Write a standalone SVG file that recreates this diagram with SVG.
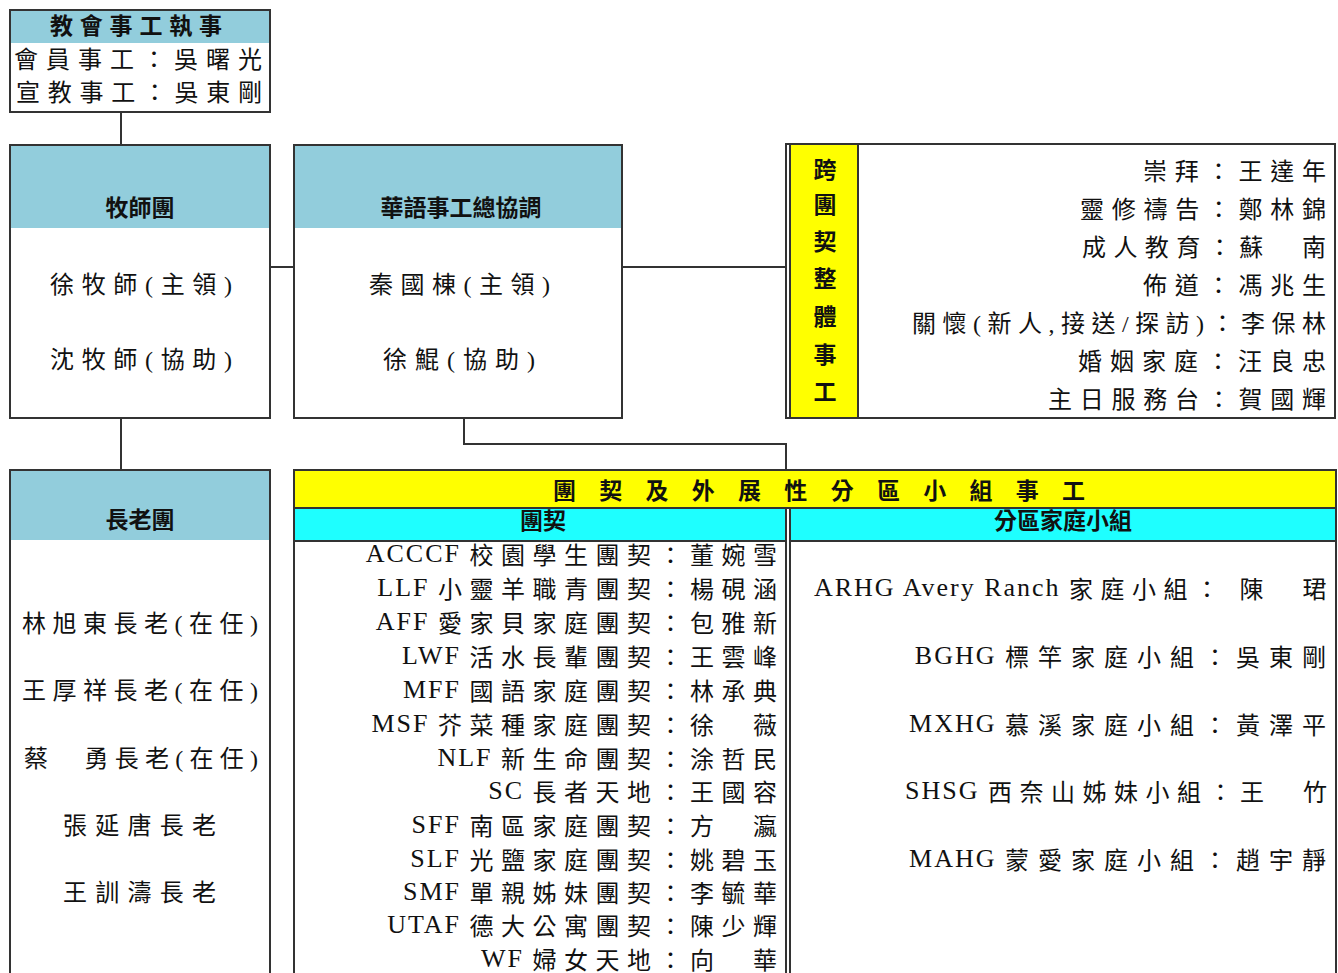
<svg xmlns="http://www.w3.org/2000/svg" width="1338" height="973" viewBox="0 0 1338 973">
<style>
.box{fill:#fff;stroke:#333;stroke-width:2}
.hdr{fill:#92CDDC}
.yel{fill:#FFFF00;stroke:#333;stroke-width:2}
.cyan{fill:#1EFFFF;stroke:#333;stroke-width:2}
.ln{fill:none;stroke:#333;stroke-width:2}
text{dominant-baseline:central;fill:#111}
.t{font-family:"Liberation Serif","Noto Sans CJK TC",serif;font-size:24px}
.h{font-family:"Liberation Sans","Noto Sans CJK TC",sans-serif;font-size:23px;font-weight:bold;text-anchor:middle}
.r{text-anchor:end}
.lat{font-family:"Liberation Serif",serif;font-size:26px;letter-spacing:2px}
.cf{font-family:"Noto Sans CJK TC",sans-serif;font-size:24px;letter-spacing:7.5px}
.cd{font-family:"Noto Sans CJK TC",sans-serif;font-size:24px;letter-spacing:9px}
</style>
<g id="connectors">
<path class="ln" d="M121 112V145"/>
<path class="ln" d="M270 267H294"/>
<path class="ln" d="M622 267H786"/>
<path class="ln" d="M121 418V470"/>
<path class="ln" d="M464 418V444H786V470"/>
</g>
<g id="deacons">
<rect class="box" x="10" y="10" width="260" height="102"/>
<rect class="hdr" x="11" y="11" width="258" height="32"/>
<text class="h" x="136" y="26" font-size="24" textLength="172">教會事工執事</text>
<text class="t" x="14" y="60" textLength="248">會員事工：吳曙光</text>
<text class="t" x="16" y="93" textLength="246">宣教事工：吳東剛</text>
</g>
<g id="pastors">
<rect class="box" x="10" y="145" width="260" height="273"/>
<rect class="hdr" x="11" y="146" width="258" height="82"/>
<text class="h" x="140" y="208">牧師團</text>
<text class="t" x="50" y="285" textLength="182">徐牧師(主領)</text>
<text class="t" x="50" y="360" textLength="182">沈牧師(協助)</text>
</g>
<g id="coordinator">
<rect class="box" x="294" y="145" width="328" height="273"/>
<rect class="hdr" x="295" y="146" width="326" height="82"/>
<text class="h" x="461" y="208">華語事工總協調</text>
<text class="t" x="369" y="285" textLength="181">秦國棟(主領)</text>
<text class="t" x="383" y="360" textLength="152">徐鯤(協助)</text>
</g>
<g id="cross-fellowship">
<rect class="box" x="786" y="144" width="549" height="274"/>
<rect class="yel" x="790" y="144" width="68" height="274"/>
<g class="h" font-size="24">
<text x="825" y="170">跨</text>
<text x="825" y="205">團</text>
<text x="825" y="242">契</text>
<text x="825" y="279">整</text>
<text x="825" y="317">體</text>
<text x="825" y="355">事</text>
<text x="825" y="392">工</text>
</g>
<g class="t r">
<text x="1326" y="172" textLength="183">崇拜：王達年</text>
<text x="1326" y="210" textLength="246">靈修禱告：鄭林錦</text>
<text x="1326" y="248" textLength="244">成人教育：蘇　南</text>
<text x="1326" y="286" textLength="183">佈道：馮兆生</text>
<text x="1326" y="324" textLength="414">關懷(新人,接送/探訪)：李保林</text>
<text x="1326" y="362" textLength="248">婚姻家庭：汪良忠</text>
<text x="1326" y="400" textLength="278">主日服務台：賀國輝</text>
</g>
</g>
<g id="elders">
<rect class="box" x="10" y="470" width="260" height="510"/>
<rect class="hdr" x="11" y="471" width="258" height="69"/>
<text class="h" x="140" y="520">長老團</text>
<text class="t" x="22" y="624" textLength="236">林旭東長老(在任)</text>
<text class="t" x="22" y="691" textLength="236">王厚祥長老(在任)</text>
<text class="t" x="24" y="759" textLength="234">蔡　勇長老(在任)</text>
<text class="t" x="63" y="826" textLength="153">張延唐長老</text>
<text class="t" x="63" y="893" textLength="153">王訓濤長老</text>
</g>
<g id="groups">
<rect class="box" x="294" y="470" width="1042" height="510"/>
<rect class="yel" x="294" y="470" width="1042" height="38"/>
<text class="h" x="819" y="491" font-size="26" textLength="532">團 契 及 外 展 性 分 區 小 組 事 工</text>
<rect class="cyan" x="294" y="508" width="492" height="33"/>
<rect class="cyan" x="790" y="508" width="546" height="33"/>
<text class="h" x="543" y="521">團契</text>
<text class="h" x="1063" y="521">分區家庭小組</text>
<path class="ln" d="M786 541V980M790 541V980"/>
</g>
<g id="fellowships" class="t r">
<text x="784.5" y="553"><tspan class="lat">ACCCF </tspan><tspan class="cf">校園學生團契：董婉雪</tspan></text>
<text x="784.5" y="587"><tspan class="lat">LLF </tspan><tspan class="cf">小靈羊職青團契：楊硯涵</tspan></text>
<text x="784.5" y="621"><tspan class="lat">AFF </tspan><tspan class="cf">愛家貝家庭團契：包雅新</tspan></text>
<text x="784.5" y="655"><tspan class="lat">LWF </tspan><tspan class="cf">活水長輩團契：王雲峰</tspan></text>
<text x="784.5" y="689"><tspan class="lat">MFF </tspan><tspan class="cf">國語家庭團契：林承典</tspan></text>
<text x="784.5" y="723"><tspan class="lat">MSF </tspan><tspan class="cf">芥菜種家庭團契：徐　薇</tspan></text>
<text x="784.5" y="757"><tspan class="lat">NLF </tspan><tspan class="cf">新生命團契：涂哲民</tspan></text>
<text x="784.5" y="790"><tspan class="lat">SC </tspan><tspan class="cf">長者天地：王國容</tspan></text>
<text x="784.5" y="824"><tspan class="lat">SFF </tspan><tspan class="cf">南區家庭團契：方　瀛</tspan></text>
<text x="784.5" y="858"><tspan class="lat">SLF </tspan><tspan class="cf">光鹽家庭團契：姚碧玉</tspan></text>
<text x="784.5" y="891"><tspan class="lat">SMF </tspan><tspan class="cf">單親姊妹團契：李毓華</tspan></text>
<text x="784.5" y="924"><tspan class="lat">UTAF </tspan><tspan class="cf">德大公寓團契：陳少輝</tspan></text>
<text x="784.5" y="958"><tspan class="lat">WF </tspan><tspan class="cf">婦女天地：向　華</tspan></text>
</g>
<g id="district-groups" class="t r">
<text x="1334" y="587"><tspan class="lat" letter-spacing="2.5">ARHG Avery Ranch </tspan><tspan class="cf" letter-spacing="8">家庭小組： 陳　珺</tspan></text>
<text x="1335" y="655"><tspan class="lat">BGHG </tspan><tspan class="cd">標竿家庭小組：吳東剛</tspan></text>
<text x="1335" y="723"><tspan class="lat">MXHG </tspan><tspan class="cd">慕溪家庭小組：黃澤平</tspan></text>
<text x="1334.5" y="790"><tspan class="lat">SHSG </tspan><tspan class="cf" letter-spacing="8.5">西奈山姊妹小組：王　竹</tspan></text>
<text x="1335" y="858"><tspan class="lat">MAHG </tspan><tspan class="cd">蒙愛家庭小組：趙宇靜</tspan></text>
</g>
</svg>
